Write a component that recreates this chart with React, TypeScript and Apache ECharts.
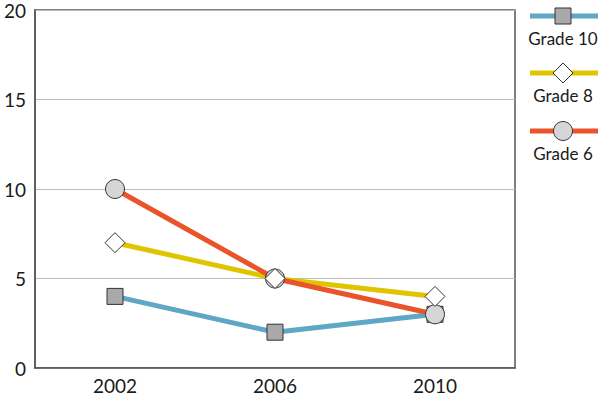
import React, { useEffect, useRef } from "react";
import * as echarts from "echarts";

const years = ["2002", "2006", "2010"];
const grade10 = [4, 2, 3];
const grade8 = [7, 5, 4];
const grade6 = [10, 5, 3];
const seriesNames = ["Grade 10", "Grade 8", "Grade 6"];

const FONT = "Lato";

export default function App() {
  const ref = useRef<HTMLDivElement>(null);
  useEffect(() => {
    document.body.style.margin = "0";
    const chart = echarts.init(ref.current!, null, { renderer: "svg" });
    const lineColors = ["#5fa7c7", "#dfc500", "#e9542a"];
    const symbols = ["rect", "diamond", "circle"];
    const fills = ["#a9a9ab", "#ffffff", "#d6d6d8"];
    const sizes = [16, 20, 19];
    const datas = [grade10, grade8, grade6];
    const symbolZ = [3, 5, 4];
    const legendY = [16, 73, 131];
    const graphic: any[] = [];
    seriesNames.forEach((n, i) => {
      graphic.push({
        type: "line",
        shape: { x1: 530, y1: legendY[i], x2: 598, y2: legendY[i] },
        style: { stroke: lineColors[i], lineWidth: 5 },
        z: 10,
      });
      const s = sizes[i];
      const cx = 563;
      const cy = legendY[i];
      if (symbols[i] === "rect") {
        graphic.push({
          type: "rect",
          shape: { x: cx - s / 2, y: cy - s / 2, width: s, height: s },
          style: { fill: fills[i], stroke: "#333", lineWidth: 1 },
          z: 11,
        });
      } else if (symbols[i] === "diamond") {
        graphic.push({
          type: "polygon",
          shape: {
            points: [
              [cx, cy - s / 2],
              [cx + s / 2, cy],
              [cx, cy + s / 2],
              [cx - s / 2, cy],
            ],
          },
          style: { fill: fills[i], stroke: "#333", lineWidth: 1 },
          z: 11,
        });
      } else {
        graphic.push({
          type: "circle",
          shape: { cx, cy, r: s / 2 },
          style: { fill: fills[i], stroke: "#333", lineWidth: 1 },
          z: 11,
        });
      }
      graphic.push({
        type: "text",
        x: cx,
        y: cy + 22,
        style: {
          text: n,
          fill: "#1a1a1a",
          font: `17px "${FONT}"`,
          textAlign: "center",
          textVerticalAlign: "middle",
        },
        z: 11,
      });
    });

    const lineSeries = seriesNames.map((n, i) => ({
      name: n,
      type: "line",
      data: datas[i],
      showSymbol: false,
      symbol: "none",
      lineStyle: { color: lineColors[i], width: 5 },
      z: 2,
      emphasis: { disabled: true },
    }));
    const markerSeries = seriesNames.map((n, i) => ({
      name: n + " markers",
      type: "scatter",
      data: datas[i],
      symbol: symbols[i],
      symbolSize: sizes[i],
      itemStyle: { color: fills[i], borderColor: "#333", borderWidth: 1, opacity: 1 },
      z: symbolZ[i],
      emphasis: { disabled: true },
    }));

    chart.setOption({
      animation: false,
      backgroundColor: "#ffffff",
      grid: { left: 35, right: 85, top: 10, bottom: 32, show: true, borderColor: "#555", borderWidth: 1.5, containLabel: false },
      graphic,
      xAxis: {
        type: "category",
        data: years,
        boundaryGap: true,
        axisLine: { show: true, lineStyle: { color: "#555", width: 1.5 } },
        axisTick: { show: false },
        axisLabel: { color: "#1a1a1a", fontSize: 19, fontFamily: FONT, margin: 8 },
        splitLine: { show: false },
      },
      yAxis: {
        type: "value",
        min: 0,
        max: 20,
        interval: 5,
        axisLine: { show: true, lineStyle: { color: "#555", width: 1.5 } },
        axisTick: { show: false },
        axisLabel: { color: "#1a1a1a", fontSize: 19, fontFamily: FONT, margin: 9 },
        splitLine: { show: true, lineStyle: { color: "#bdbdbd", width: 1 } },
      },
      series: [...lineSeries, ...markerSeries],
    });
    return () => chart.dispose();
  }, []);
  return <div ref={ref} style={{ width: 600, height: 400 }} />;
}
